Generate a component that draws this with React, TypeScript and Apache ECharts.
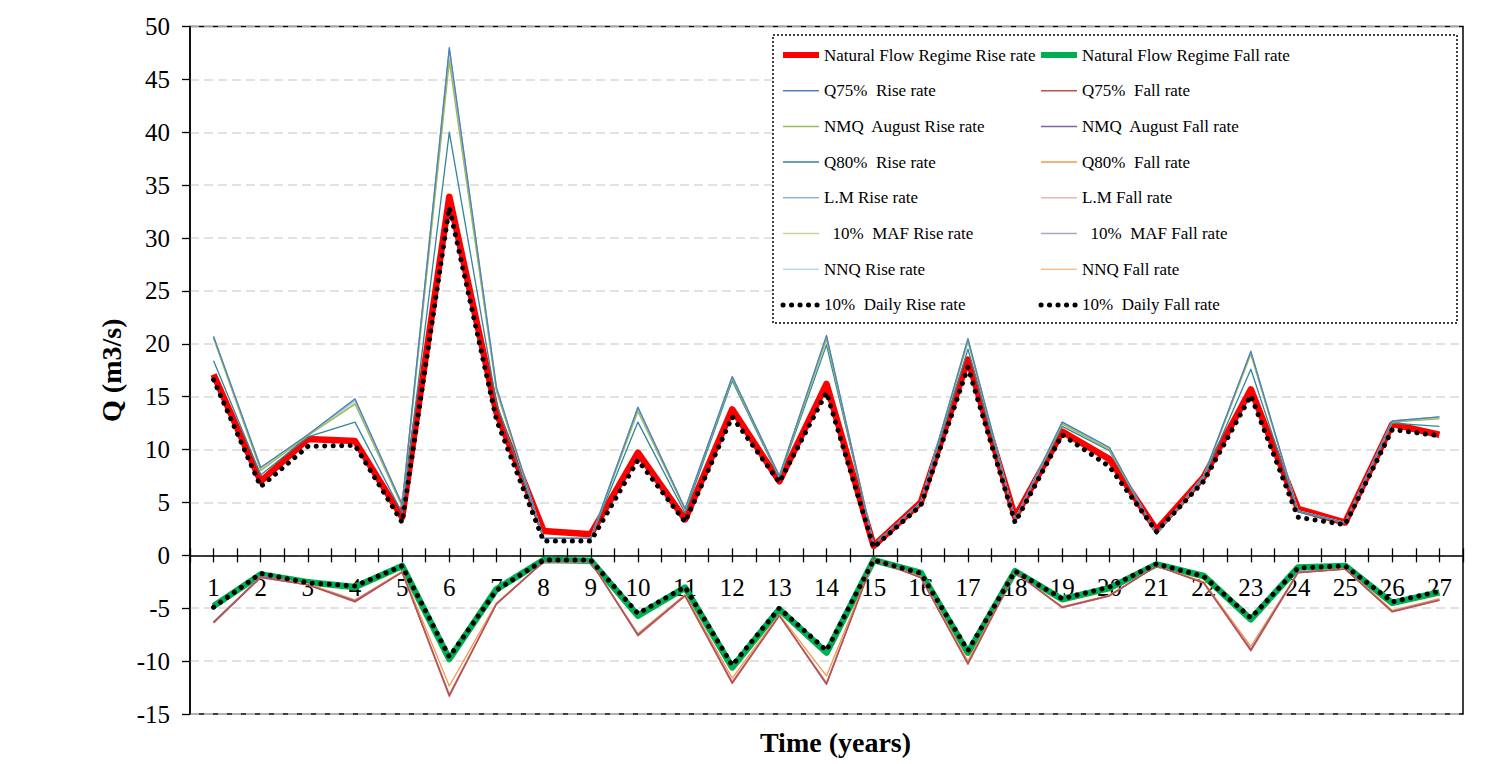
import React, { useEffect, useRef } from "react";
import * as echarts from "echarts";

// ---------- data ----------
const years = [1, 2, 3, 4, 5, 6, 7, 8, 9, 10, 11, 12, 13, 14, 15, 16, 17, 18, 19, 20, 21, 22, 23, 24, 25, 26, 27];

const natRise = [17.1, 7.0, 11.0, 10.8, 3.6, 33.9, 13.5, 2.3, 2.0, 9.7, 3.4, 13.8, 7.0, 16.2, 0.9, 5.0, 18.5, 3.6, 11.7, 9.1, 2.4, 7.4, 15.7, 4.4, 3.1, 12.4, 11.4];
const q75Rise = [20.7, 8.3, 11.4, 14.8, 4.8, 48.0, 15.9, 1.6, 1.6, 14.0, 4.4, 16.9, 7.5, 20.8, 1.0, 5.0, 20.5, 3.4, 12.6, 10.2, 2.0, 7.5, 19.3, 4.2, 3.1, 12.7, 13.1];
const nmqAugRise = [20.5, 8.0, 11.3, 14.3, 4.6, 46.7, 15.5, 1.6, 1.6, 13.6, 4.3, 16.7, 7.4, 20.4, 1.0, 5.0, 20.2, 3.4, 12.4, 10.0, 2.0, 7.4, 19.0, 4.2, 3.1, 12.6, 12.9];
const q80Rise = [18.4, 7.6, 11.2, 12.6, 4.0, 40.0, 14.4, 1.6, 1.6, 12.6, 4.0, 16.5, 7.3, 19.9, 1.0, 4.9, 19.5, 3.4, 12.2, 9.9, 2.0, 7.3, 17.6, 4.1, 3.0, 12.5, 12.2];
const lmRise = [20.7, 8.3, 11.4, 14.7, 4.8, 47.9, 15.8, 1.6, 1.6, 14.0, 4.4, 16.9, 7.5, 20.7, 1.0, 5.0, 20.4, 3.4, 12.6, 10.2, 2.0, 7.5, 19.2, 4.2, 3.1, 12.7, 13.1];
const mafRise = [20.6, 8.1, 11.4, 14.4, 4.7, 47.0, 15.6, 1.6, 1.6, 13.8, 4.3, 16.8, 7.5, 20.6, 1.0, 5.0, 20.3, 3.4, 12.5, 10.1, 2.0, 7.5, 19.1, 4.2, 3.1, 12.6, 13.0];
const nnqRise = [20.6, 8.2, 11.4, 14.6, 4.8, 47.6, 15.7, 1.6, 1.6, 13.9, 4.4, 16.8, 7.5, 20.7, 1.0, 5.0, 20.4, 3.4, 12.6, 10.2, 2.0, 7.5, 19.2, 4.2, 3.1, 12.7, 13.0];
const dailyRise = [16.6, 6.5, 10.3, 10.4, 3.1, 32.9, 12.8, 1.35, 1.35, 9.0, 3.15, 13.1, 6.9, 15.4, 0.75, 4.7, 17.8, 3.1, 11.4, 8.4, 2.25, 7.0, 15.1, 3.6, 2.9, 11.9, 11.3];

const natFall = [-4.8, -1.8, -2.55, -3.0, -1.0, -9.8, -3.2, -0.45, -0.5, -5.7, -3.05, -10.6, -5.1, -9.2, -0.45, -1.65, -9.2, -1.5, -4.15, -3.1, -0.85, -1.95, -6.05, -1.15, -1.0, -4.5, -3.5];
const q75Fall = [-6.4, -2.1, -2.8, -4.4, -1.6, -13.3, -4.6, -0.6, -0.6, -7.6, -3.85, -12.1, -5.7, -12.2, -0.4, -2.1, -10.3, -1.6, -4.95, -3.85, -1.0, -2.6, -9.0, -1.65, -1.3, -5.35, -4.25];
const nmqAugFall = [-6.3, -2.0, -2.8, -4.3, -1.6, -13.2, -4.6, -0.6, -0.6, -7.5, -3.8, -12.0, -5.7, -12.1, -0.4, -2.1, -10.2, -1.6, -4.9, -3.8, -1.0, -2.6, -8.9, -1.6, -1.3, -5.3, -4.2];
const q80Fall = [-6.3, -2.0, -2.7, -4.2, -1.5, -12.35, -4.5, -0.6, -0.6, -7.4, -3.7, -11.6, -5.6, -11.4, -0.4, -2.0, -10.0, -1.6, -4.85, -3.75, -1.0, -2.5, -8.6, -1.6, -1.25, -5.2, -4.1];
const lmFall = [-6.4, -2.1, -2.8, -4.4, -1.6, -13.4, -4.6, -0.6, -0.6, -7.6, -3.85, -12.1, -5.7, -12.2, -0.4, -2.1, -10.3, -1.6, -4.95, -3.85, -1.0, -2.6, -9.05, -1.65, -1.3, -5.35, -4.25];
const mafFall = [-6.35, -2.05, -2.8, -4.35, -1.6, -13.25, -4.6, -0.6, -0.6, -7.55, -3.8, -12.05, -5.7, -12.15, -0.4, -2.1, -10.25, -1.6, -4.9, -3.8, -1.0, -2.6, -8.95, -1.6, -1.3, -5.3, -4.2];
const nnqFall = [-6.3, -2.0, -2.75, -4.3, -1.55, -13.1, -4.55, -0.6, -0.6, -7.5, -3.75, -11.9, -5.65, -12.0, -0.4, -2.05, -10.2, -1.6, -4.9, -3.8, -1.0, -2.55, -8.85, -1.6, -1.3, -5.25, -4.2];
const dailyFall = [-4.9, -1.7, -2.6, -2.9, -1.0, -9.6, -3.3, -0.45, -0.45, -5.5, -3.0, -10.4, -5.0, -9.0, -0.45, -1.7, -9.0, -1.5, -4.1, -3.0, -0.8, -2.0, -5.9, -1.2, -1.0, -4.4, -3.4];

const yMin = -15;
const yMax = 50;
const yStep = 5;

const FONT = '"Liberation Serif", "Times New Roman", serif';

// plot-area layout (pixels)
const GRID_LEFT = 190;
const GRID_TOP = 26.5;
const GRID_W = 1273;
const GRID_H = 687.5;
const ZERO_Y = GRID_TOP + (GRID_H * yMax) / (yMax - yMin);

type S = { name: string; data: number[]; color: string; width: number; dotted?: boolean };

const riseSeries: S[] = [
  { name: "Natural Flow Regime Rise rate", data: natRise, color: "#FF0000", width: 6.5 },
  { name: "Q75%  Rise rate", data: q75Rise, color: "#4F81BD", width: 1.3 },
  { name: "NMQ  August Rise rate", data: nmqAugRise, color: "#9BBB59", width: 1.3 },
  { name: "Q80%  Rise rate", data: q80Rise, color: "#31859C", width: 1.3 },
  { name: "L.M Rise rate", data: lmRise, color: "#95B3D7", width: 1.3 },
  { name: "  10%  MAF Rise rate", data: mafRise, color: "#C3D69B", width: 1.3 },
  { name: "NNQ Rise rate", data: nnqRise, color: "#B7DEE8", width: 1.3 },
  { name: "10%  Daily Rise rate", data: dailyRise, color: "#000000", width: 5, dotted: true },
];
const fallSeries: S[] = [
  { name: "Natural Flow Regime Fall rate", data: natFall, color: "#00B050", width: 6.5 },
  { name: "Q75%  Fall rate", data: q75Fall, color: "#C0504D", width: 1.3 },
  { name: "NMQ  August Fall rate", data: nmqAugFall, color: "#8064A2", width: 1.3 },
  { name: "Q80%  Fall rate", data: q80Fall, color: "#F79646", width: 1.3 },
  { name: "L.M Fall rate", data: lmFall, color: "#E6B9B8", width: 1.3 },
  { name: "  10%  MAF Fall rate", data: mafFall, color: "#B3A2C7", width: 1.3 },
  { name: "NNQ Fall rate", data: nnqFall, color: "#FAC090", width: 1.3 },
  { name: "10%  Daily Fall rate", data: dailyFall, color: "#000000", width: 5, dotted: true },
];

function lineStyleOf(s: S) {
  return {
    color: s.color,
    width: s.width,
    type: s.dotted ? [0.1, 8.4] : "solid",
    cap: s.dotted ? "round" : "butt",
    join: "round",
    opacity: 1,
  };
}

function toSeries(s: S, z: number) {
  return {
    type: "line",
    name: s.name,
    xAxisIndex: 0,
    yAxisIndex: 0,
    data: years.map((x, i) => [x, s.data[i]]),
    symbol: "none",
    z,
    color: s.color,
    lineStyle: lineStyleOf(s),
  };
}

function legendItems(list: S[]) {
  return list.map((s) => ({
    name: s.name,
    lineStyle: { ...lineStyleOf(s), width: s.dotted ? 5 : s.width === 6.5 ? 6 : 1.5 },
  }));
}

export default function App() {
  const ref = useRef<HTMLDivElement>(null);
  useEffect(() => {
    if (!ref.current) return;
    const chart = echarts.init(ref.current, null, { renderer: "svg" });

    const thick = [riseSeries[0], fallSeries[0]];
    // lighter lines first so the darker ones end up on top
    const thin = [...riseSeries.slice(1, 7).reverse(), ...fallSeries.slice(1, 7).reverse()];
    const dots = [riseSeries[7], fallSeries[7]];
    const series = [
      ...thick.map((s) => toSeries(s, 2)),
      ...thin.map((s) => toSeries(s, 3)),
      ...dots.map((s) => toSeries(s, 4)),
    ];

    const legendCommon = {
      orient: "vertical",
      top: 45,
      padding: 0,
      itemWidth: 36,
      itemHeight: 14,
      itemGap: 15.7,
      z: 6,
      textStyle: { fontFamily: FONT, fontSize: 17, color: "#000", lineHeight: 20 },
      itemStyle: { opacity: 0 },
    };

    const xCommon = {
      type: "value",
      min: 0.5,
      max: 27.5,
      interval: 0.5,
      splitLine: { show: false },
    };

    chart.setOption({
      animation: false,
      backgroundColor: "#fff",
      grid: [
        {
          left: GRID_LEFT,
          top: GRID_TOP,
          width: GRID_W,
          height: GRID_H,
          show: true,
          borderColor: "#000",
          borderWidth: 1.5,
          backgroundColor: "transparent",
          containLabel: false,
          outerBoundsMode: "none",
        },
        {
          left: GRID_LEFT,
          top: ZERO_Y,
          width: GRID_W,
          height: GRID_TOP + GRID_H - ZERO_Y,
          show: false,
          containLabel: false,
          outerBoundsMode: "none",
        },
      ],
      legend: [
        { ...legendCommon, left: 780, data: legendItems(riseSeries) },
        { ...legendCommon, left: 1038, data: legendItems(fallSeries) },
      ],
      graphic: [
        {
          type: "rect",
          z: 5,
          shape: { x: 773, y: 35, width: 684, height: 288 },
          style: { fill: "#fff", stroke: "#000", lineWidth: 1.5, lineDash: [2, 2] },
        },
      ],
      xAxis: [
        {
          // zero line with upward ticks
          ...xCommon,
          gridIndex: 0,
          position: "top",
          axisLine: { onZero: true, lineStyle: { color: "#000", width: 1.5 } },
          axisTick: { show: true, inside: false, length: 7, lineStyle: { color: "#000", width: 1.3 } },
          axisLabel: { show: false },
        },
        {
          // bottom axis: only carries the axis name
          ...xCommon,
          gridIndex: 0,
          position: "bottom",
          axisLine: { show: false, onZero: false },
          axisTick: { show: false },
          axisLabel: { show: false },
          name: "Time (years)",
          nameLocation: "middle",
          nameGap: 14,
          nameTextStyle: { fontFamily: FONT, fontSize: 28, fontWeight: "bold", color: "#000", padding: [0, 0, 0, 18] },
        },
        {
          // labels + downward ticks hanging from the zero line
          ...xCommon,
          gridIndex: 1,
          position: "top",
          axisLine: { show: false, onZero: false },
          axisTick: { show: true, inside: true, length: 7, lineStyle: { color: "#000", width: 1.3 } },
          axisLabel: {
            inside: true,
            margin: 20,
            fontFamily: FONT,
            fontSize: 25,
            color: "#000",
            formatter: (v: number) => (Math.abs(v - Math.round(v)) < 1e-6 ? String(Math.round(v)) : ""),
          },
        },
      ],
      yAxis: [
        {
          type: "value",
          gridIndex: 0,
          min: yMin,
          max: yMax,
          interval: yStep,
          position: "left",
          axisLine: { show: true, onZero: false, lineStyle: { color: "#000", width: 1.5 } },
          axisTick: { show: true, length: 8, lineStyle: { color: "#000", width: 1.3 } },
          axisLabel: { margin: 20, fontFamily: FONT, fontSize: 25, color: "#000" },
          splitLine: { show: true, lineStyle: { color: "#D9D9D9", width: 1.5, type: [9, 5] } },
          name: "Q (m3/s)",
          nameLocation: "middle",
          nameGap: 48,
          nameTextStyle: { fontFamily: FONT, fontSize: 28, fontWeight: "bold", color: "#000" },
        },
        {
          type: "value",
          gridIndex: 1,
          min: yMin,
          max: 0,
          show: false,
        },
      ],
      series,
    });
    return () => chart.dispose();
  }, []);

  return (
    <div
      ref={ref}
      style={{ position: "fixed", left: 0, top: 0, width: 1485, height: 764, background: "#fff" }}
    />
  );
}
